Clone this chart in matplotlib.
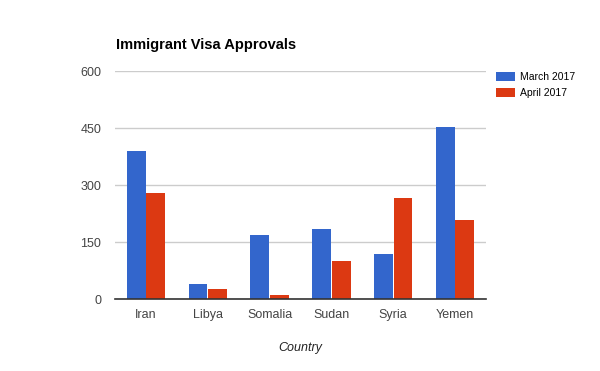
import matplotlib
matplotlib.use("Agg")
import matplotlib.pyplot as plt
import numpy as np

plt.rcParams['font.family'] = ['Liberation Sans', 'DejaVu Sans']

# data
countries = ["Iran", "Libya", "Somalia", "Sudan", "Syria", "Yemen"]
march_2017 = [390, 40, 169, 185, 119, 453]
april_2017 = [280, 26, 11, 101, 267, 209]
yticks = [0, 150, 300, 450, 600]

blue = "#3366cc"
red = "#dc3912"

fig = plt.figure(figsize=(6, 3.71), dpi=100)
ax = fig.add_axes([0.1917, 0.194, 0.6183, 0.614])

x = np.arange(len(countries))
w = 0.305
ax.bar(x - w / 2 - 0.005, march_2017, width=w, color=blue, label="March 2017")
ax.bar(x + w / 2 + 0.005, april_2017, width=w, color=red, label="April 2017")

ax.set_xlim(-0.5, len(countries) - 0.5)
ax.set_ylim(0, 600)
ax.set_yticks(yticks)
ax.set_xticks(x)
ax.set_xticklabels(countries)
ax.yaxis.grid(True, color="#cccccc", linewidth=1)
ax.set_axisbelow(True)

for s in ["top", "right", "left"]:
    ax.spines[s].set_visible(False)
ax.spines["bottom"].set_color("#333333")
ax.spines["bottom"].set_linewidth(1.2)
ax.spines["bottom"].set_zorder(3)
ax.tick_params(axis="both", length=0, labelsize=9, labelcolor="#444444")
ax.tick_params(axis="x", pad=7)
ax.tick_params(axis="y", pad=10)

ax.set_xlabel("Country", fontsize=9, style="italic", color="#222222", labelpad=15)

fig.text(0.193, 0.867, "Immigrant Visa Approvals", fontsize=10.5,
         fontweight="bold", color="#000000", ha="left", va="baseline")

fig.legend(loc="upper left", bbox_to_anchor=(0.826, 0.807), frameon=False,
           fontsize=7.5, handlelength=1.9, handleheight=1.0, handletextpad=0.4,
           labelspacing=0.6, borderaxespad=0, borderpad=0)

fig.savefig("out.png", dpi=100)
